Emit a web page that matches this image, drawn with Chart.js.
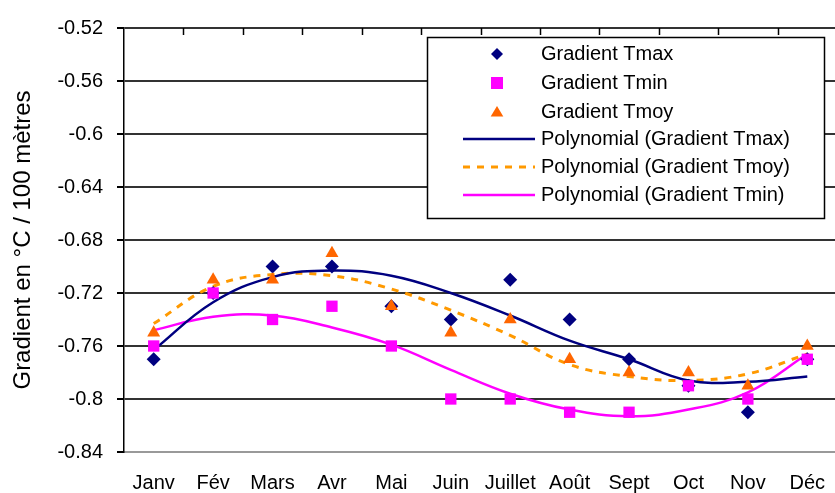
<!DOCTYPE html>
<html>
<head>
<meta charset="utf-8">
<script src="https://cdn.jsdelivr.net/npm/chart.js@4/dist/chart.umd.min.js"></script>
<style>
  html, body { margin: 0; padding: 0; background: #fff; overflow: hidden; }
</style>
</head>
<body>
<canvas id="chart" width="845" height="493"></canvas>
<script>
// Data
const months = ['Janv', 'Fév', 'Mars', 'Avr', 'Mai', 'Juin', 'Juillet', 'Août', 'Sept', 'Oct', 'Nov', 'Déc'];
const gradTmax = [-0.77, -0.72, -0.70, -0.70, -0.73, -0.74, -0.71, -0.74, -0.77, -0.79, -0.81, -0.77];
const gradTmin = [-0.76, -0.72, -0.74, -0.73, -0.76, -0.80, -0.80, -0.81, -0.81, -0.79, -0.80, -0.77];
const gradTmoy = [-0.75, -0.71, -0.71, -0.69, -0.73, -0.75, -0.74, -0.77, -0.78, -0.78, -0.79, -0.76];
// polynomial trendlines, read at each month
const polyTmax = [-0.763, -0.727, -0.708, -0.703, -0.707, -0.720, -0.737, -0.756, -0.770, -0.786, -0.787, -0.783];
const polyTmoy = [-0.743, -0.715, -0.706, -0.707, -0.717, -0.733, -0.752, -0.774, -0.783, -0.786, -0.781, -0.766];
const polyTmin = [-0.748, -0.738, -0.737, -0.746, -0.759, -0.778, -0.796, -0.808, -0.813, -0.808, -0.795, -0.766];
const yTicks = [-0.84, -0.8, -0.76, -0.72, -0.68, -0.64, -0.6, -0.56, -0.52];

const NAVY = '#000080';
const MAGENTA = '#ff00ff';
const ORANGE = '#ff6600';
const LIGHT_ORANGE = '#ff9900';
const FONT = '"Liberation Sans", Arial, sans-serif';

function drawMarker(ctx, style, x, y, r) {
  ctx.beginPath();
  if (style === 'rectRot') {
    ctx.moveTo(x, y - r);
    ctx.lineTo(x + r, y);
    ctx.lineTo(x, y + r);
    ctx.lineTo(x - r, y);
  } else if (style === 'rect') {
    ctx.rect(x - r, y - r, 2 * r, 2 * r);
  } else {
    ctx.moveTo(x, y - r);
    ctx.lineTo(x + r * 1.05, y + r * 0.75);
    ctx.lineTo(x - r * 1.05, y + r * 0.75);
  }
  ctx.closePath();
  ctx.fill();
}

// small tick marks hanging from the top edge at the category boundaries
const topTicks = {
  id: 'topTicks',
  afterDatasetsDraw(chart) {
    const { ctx, chartArea } = chart;
    const step = (chartArea.right - chartArea.left) / months.length;
    ctx.save();
    ctx.strokeStyle = '#000';
    ctx.lineWidth = 1.5;
    for (let i = 1; i <= months.length; i++) {
      const x = Math.round(chartArea.left + i * step) + 0.5;
      ctx.beginPath();
      ctx.moveTo(x, chartArea.top);
      ctx.lineTo(x, chartArea.top + 7);
      ctx.stroke();
    }
    ctx.restore();
  }
};

// boxed legend inside the plot, like the spreadsheet original
const boxLegend = {
  id: 'boxLegend',
  afterDraw(chart) {
    const ctx = chart.ctx;
    const bx = 427, by = 37, bw = 397, bh = 181;
    const rows = [54, 83, 112, 139, 167, 195];
    ctx.save();
    ctx.fillStyle = '#fff';
    ctx.fillRect(bx, by, bw, bh);
    ctx.strokeStyle = '#000';
    ctx.lineWidth = 1.5;
    ctx.strokeRect(bx + 0.5, by + 0.5, bw, bh);
    ctx.font = '20px ' + FONT;
    ctx.textBaseline = 'middle';
    chart.data.datasets.forEach((ds, i) => {
      const y = rows[i];
      if (ds.showLine === false) {
        ctx.fillStyle = ds.pointBackgroundColor;
        drawMarker(ctx, ds.pointStyle, 497, y, 6);
      } else {
        ctx.strokeStyle = ds.borderColor;
        ctx.lineWidth = ds.borderWidth;
        ctx.setLineDash(ds.borderDash || []);
        ctx.beginPath();
        ctx.moveTo(463, y);
        ctx.lineTo(535, y);
        ctx.stroke();
        ctx.setLineDash([]);
      }
      ctx.fillStyle = '#000';
      ctx.fillText(ds.label, 541, y);
    });
    ctx.restore();
  }
};

function pointSeries(label, data, style, color, radius, order) {
  return {
    label: label,
    data: data,
    showLine: false,
    pointStyle: style,
    pointRadius: radius,
    pointBackgroundColor: color,
    pointBorderColor: color,
    pointBorderWidth: 0,
    order: order
  };
}

function trendSeries(label, data, color, dash, order) {
  return {
    label: label,
    data: data,
    borderColor: color,
    borderWidth: dash ? 3 : 2.5,
    borderDash: dash,
    pointRadius: 0,
    tension: 0.4,
    fill: false,
    order: order
  };
}

new Chart(document.getElementById('chart'), {
  type: 'line',
  data: {
    labels: months,
    datasets: [
      pointSeries('Gradient Tmax', gradTmax, 'rectRot', NAVY, 7, 3),
      pointSeries('Gradient Tmin', gradTmin, 'rect', MAGENTA, 8, 1),
      pointSeries('Gradient Tmoy', gradTmoy, 'triangle', ORANGE, 7.5, 2),
      trendSeries('Polynomial (Gradient Tmax)', polyTmax, NAVY, undefined, 4),
      trendSeries('Polynomial (Gradient Tmoy)', polyTmoy, LIGHT_ORANGE, [7, 7], 5),
      trendSeries('Polynomial (Gradient Tmin)', polyTmin, MAGENTA, undefined, 6)
    ]
  },
  options: {
    responsive: false,
    animation: false,
    events: [],
    layout: { padding: { left: 0, right: 6, top: 28, bottom: 0 } },
    plugins: {
      legend: { display: false },
      tooltip: { enabled: false }
    },
    scales: {
      x: {
        offset: true,
        grid: { display: false },
        border: { color: '#999', width: 2 },
        ticks: {
          color: '#000',
          font: { family: FONT, size: 20 },
          padding: 11,
          maxRotation: 0,
          autoSkip: false
        },
        afterFit(scale) { scale.height = 41; }
      },
      y: {
        min: -0.84,
        max: -0.52,
        afterBuildTicks(scale) { scale.ticks = yTicks.map(v => ({ value: v })); },
        grid: {
          color: c => (c.index === 0 ? '#999' : '#333'),
          lineWidth: 2,
          tickLength: 7,
          tickColor: '#000'
        },
        border: { color: '#000', width: 1.5 },
        ticks: {
          color: '#000',
          font: { family: FONT, size: 20 },
          padding: 14,
          callback: v => String(v)
        },
        title: {
          display: true,
          text: 'Gradient en °C / 100 mètres',
          color: '#000',
          font: { family: FONT, size: 24 },
          padding: { top: 9, bottom: 0 }
        },
        afterFit(scale) { scale.width = 124; }
      }
    }
  },
  plugins: [topTicks, boxLegend]
});
</script>
</body>
</html>
